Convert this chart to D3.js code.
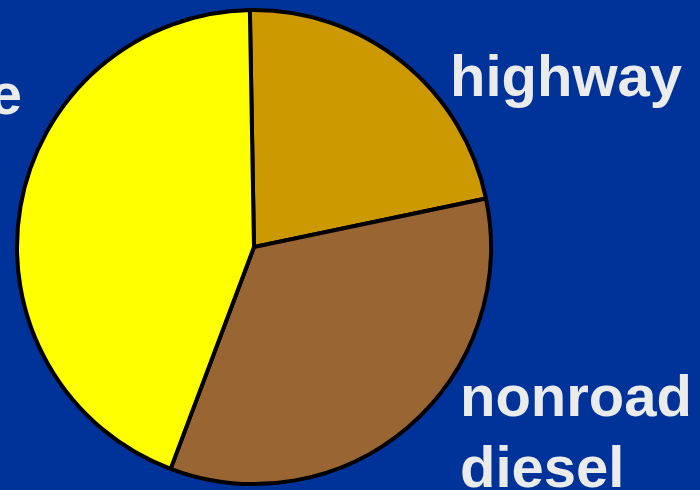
<!DOCTYPE html>
<html>
<head>
<meta charset="utf-8">
<script src="https://cdn.jsdelivr.net/npm/d3@7"></script>
<style>
  html, body { margin: 0; padding: 0; background: #003399; }
  svg { display: block; }
</style>
</head>
<body>
<div id="chart"></div>
<script>
// slice data (share of total, %)
var categories = ["highway", "nonroad diesel", "locomotive & marine"];
var values = [22, 34, 44];
var colors = ["#cc9900", "#996633", "#ffff00"];
// label lines for each slice
var labelLines = [["highway"], ["nonroad", "diesel"], ["locomotive", "& marine"]];

var width = 700, height = 490;
var cx = 254, cy = 247, radius = 237;

var svg = d3.select("#chart").append("svg")
    .attr("width", width)
    .attr("height", height);

svg.append("rect")
    .attr("width", width)
    .attr("height", height)
    .attr("fill", "#003399");

var pie = d3.pie()
    .sort(null)
    .startAngle(-1 * Math.PI / 180)
    .endAngle(359 * Math.PI / 180);

var arc = d3.arc().innerRadius(0).outerRadius(radius);

var g = svg.append("g").attr("transform", "translate(" + cx + "," + cy + ")");

g.selectAll("path")
    .data(pie(values))
    .enter().append("path")
    .attr("d", arc)
    .attr("fill", function(d, i) { return colors[i]; })
    .attr("stroke", "#000")
    .attr("stroke-width", 4)
    .attr("stroke-linejoin", "round");

// label placement (text anchor position per slice)
var labelPos = [
    {x: 450, y: 96, anchor: "start"},
    {x: 460, y: 416, anchor: "start"},
    {x: 22, y: 114, anchor: "end"}
];
var lineGap = 71;

labelLines.forEach(function(lines, i) {
    var p = labelPos[i];
    var t = svg.append("text")
        .attr("font-family", "Liberation Sans, Arial, sans-serif")
        .attr("font-weight", "bold")
        .attr("font-size", 58)
        .attr("fill", "#ebebeb")
        .attr("text-anchor", p.anchor);
    lines.forEach(function(line, j) {
        t.append("tspan")
            .attr("x", i === 2 && j === 1 ? p.x - 20 : p.x)
            .attr("y", p.y + j * lineGap)
            .text(line);
    });
});
</script>
</body>
</html>
